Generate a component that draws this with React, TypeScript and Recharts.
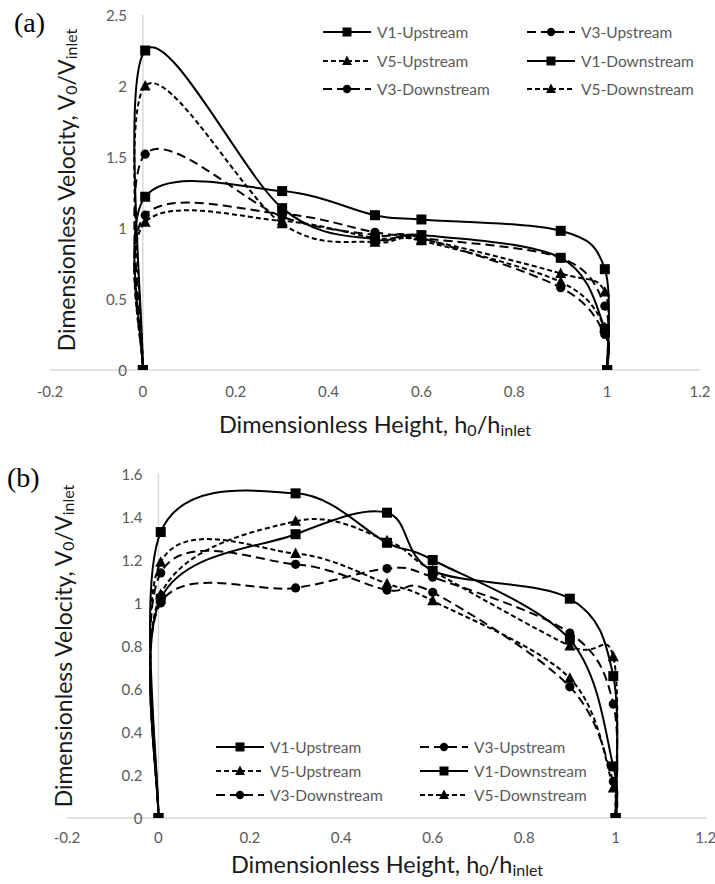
import React from "react"
import { LineChart, Line, XAxis, YAxis, ReferenceLine, Legend, Label } from "recharts"

// dimensionless height positions of the measuring points
const heights = [0, 0.005, 0.3, 0.5, 0.6, 0.9, 0.995, 1]

const seriesNames = ["V1-Upstream", "V3-Upstream", "V5-Upstream", "V1-Downstream", "V3-Downstream", "V5-Downstream"]

// chart (a) values, V0/Vinlet
const aV1Up = [0, 1.22, 1.26, 1.09, 1.06, 0.98, 0.71, 0]
const aV3Up = [0, 1.09, 1.1, 0.97, 0.93, 0.79, 0.45, 0]
const aV5Up = [0, 1.04, 1.05, 0.93, 0.91, 0.62, 0.3, 0]
const aV1Down = [0, 2.25, 1.14, 0.92, 0.95, 0.79, 0.29, 0]
const aV3Down = [0, 1.52, 1.08, 0.95, 0.93, 0.58, 0.25, 0]
const aV5Down = [0, 2.0, 1.03, 0.9, 0.92, 0.68, 0.55, 0]

// chart (b) values
const bV1Up = [0, 1.33, 1.51, 1.28, 1.2, 0.83, 0.24, 0]
const bV3Up = [0, 1.0, 1.07, 1.16, 1.12, 0.86, 0.53, 0]
const bV5Up = [0, 1.04, 1.38, 1.29, 1.15, 0.8, 0.75, 0]
const bV1Down = [0, 1.02, 1.32, 1.42, 1.15, 1.02, 0.66, 0]
const bV3Down = [0, 1.14, 1.18, 1.06, 1.05, 0.61, 0.17, 0]
const bV5Down = [0, 1.19, 1.23, 1.09, 1.01, 0.65, 0.14, 0]

const xTicks = [-0.2, 0, 0.2, 0.4, 0.6, 0.8, 1, 1.2]
const yTicksA = [0, 0.5, 1, 1.5, 2, 2.5]
const yTicksB = [0, 0.2, 0.4, 0.6, 0.8, 1, 1.2, 1.4, 1.6]

const seriesA = [aV1Up, aV3Up, aV5Up, aV1Down, aV3Down, aV5Down]
const seriesB = [bV1Up, bV3Up, bV5Up, bV1Down, bV3Down, bV5Down]

type Kind = "square" | "circle" | "triangle"

const styleFor = (name: string): { kind: Kind; dash?: string } => {
  if (name.startsWith("V1")) return { kind: "square" }
  if (name.startsWith("V3")) return { kind: "circle", dash: "9 5" }
  return { kind: "triangle", dash: "5 3" }
}

// Excel-like smoothed line (bezier through the points, 1/6 tangents)
const excelSmooth = (context: any) => {
  let pts: number[][] = []
  return {
    areaStart() {},
    areaEnd() {},
    lineStart() {
      pts = []
    },
    lineEnd() {
      const n = pts.length
      if (!n) return
      context.moveTo(pts[0][0], pts[0][1])
      for (let i = 0; i < n - 1; i++) {
        const p0 = pts[i > 0 ? i - 1 : i]
        const p1 = pts[i]
        const p2 = pts[i + 1]
        const p3 = pts[i + 2 < n ? i + 2 : i + 1]
        context.bezierCurveTo(
          p1[0] + (p2[0] - p0[0]) / 6,
          p1[1] + (p2[1] - p0[1]) / 6,
          p2[0] - (p3[0] - p1[0]) / 6,
          p2[1] - (p3[1] - p1[1]) / 6,
          p2[0],
          p2[1]
        )
      }
    },
    point(x: number, y: number) {
      pts.push([+x, +y])
    },
  }
}

const Marker = ({ kind, cx, cy, s = 1 }: { kind: Kind; cx: number; cy: number; s?: number }) => {
  if (kind === "square") return <rect x={cx - 5 * s} y={cy - 5 * s} width={10 * s} height={10 * s} fill="#000" />
  if (kind === "circle") return <circle cx={cx} cy={cy} r={4.6 * s} fill="#000" />
  return (
    <polygon
      points={`${cx},${cy - 6 * s} ${cx + 5.5 * s},${cy + 4.5 * s} ${cx - 5.5 * s},${cy + 4.5 * s}`}
      fill="#000"
    />
  )
}

const LegendBox = ({ cols, rows, h }: { cols: number[]; rows: number[]; h: number }) => (
  <svg width={715} height={h} style={{ position: "absolute", left: 0, top: 0 }}>
    {seriesNames.map((name, i) => {
      const cx = cols[i % 2]
      const cy = rows[Math.floor(i / 2)]
      const st = styleFor(name)
      return (
        <g key={name}>
          <line x1={cx - 24} x2={cx + 24} y1={cy} y2={cy} stroke="#000" strokeWidth={2} strokeDasharray={st.dash} />
          <Marker kind={st.kind} cx={cx} cy={cy} s={0.9} />
          <text x={cx + 30} y={cy} dominantBaseline="central" fontSize={15.5} fill="#595959" fontFamily="Lato">
            {name}
          </text>
        </g>
      )
    })}
  </svg>
)

const VelocityTitle = ({ x, y }: { x: number; y: number }) => (
  <text
    x={x}
    y={y}
    transform={`rotate(-90, ${x}, ${y})`}
    textAnchor="middle"
    dominantBaseline="central"
    fontSize={23}
    fill="#1a1a1a"
    fontFamily="Lato"
  >
    Dimensionless Velocity, V
    <tspan fontSize={16} dy={4}>0</tspan>
    <tspan dy={-4}>/V</tspan>
    <tspan fontSize={16} dy={4}>inlet</tspan>
  </text>
)

const HeightTitle = ({ x, y }: { x: number; y: number }) => (
  <text x={x} y={y} textAnchor="middle" fontSize={23.5} fill="#1a1a1a" fontFamily="Lato">
    Dimensionless Height, h
    <tspan fontSize={16} dy={3}>0</tspan>
    <tspan dy={-3}>/h</tspan>
    <tspan fontSize={16} dy={3}>inlet</tspan>
  </text>
)

interface PanelProps {
  values: number[][]
  height: number
  margin: { top: number; right: number; left: number; bottom: number }
  yDomain: number[]
  yTicks: number[]
  xTickMargin: number
  titleDy: number
  yTitle: { x: number; y: number }
  legendCols: number[]
  legendRows: number[]
}

const Panel = ({ values, height, margin, yDomain, yTicks, xTickMargin, titleDy, yTitle, legendCols, legendRows }: PanelProps) => {
  const width = 715
  const axisW = 1
  const plotLeft = margin.left + axisW
  const plotW = width - plotLeft - margin.right
  const zeroX = plotLeft + ((0 - xTicks[0]) / (xTicks[xTicks.length - 1] - xTicks[0])) * plotW

  const YTick = ({ y, payload }: any) => (
    <text x={zeroX - 16} y={y} textAnchor="end" dominantBaseline="central" fontSize={15} fill="#595959" fontFamily="Lato">
      {String(payload.value)}
    </text>
  )

  return (
    <LineChart width={width} height={height} margin={margin}>
      <XAxis
        type="number"
        dataKey="x"
        domain={[xTicks[0], xTicks[xTicks.length - 1]]}
        ticks={xTicks}
        tickFormatter={(v: number) => String(Math.round(v * 10) / 10)}
        tick={{ fill: "#595959", fontSize: 15, fontFamily: "Lato" }}
        tickLine={false}
        tickMargin={xTickMargin}
        axisLine={{ stroke: "#d9d9d9", strokeWidth: 1.5 }}
        height={60}
        allowDataOverflow
      >
        <Label
          content={({ viewBox }: any) => (
            <HeightTitle x={viewBox.x + viewBox.width / 2} y={viewBox.y + titleDy} />
          )}
        />
      </XAxis>
      <YAxis
        type="number"
        domain={yDomain}
        ticks={yTicks}
        width={axisW}
        axisLine={false}
        tickLine={false}
        tick={<YTick />}
        interval={0}
        allowDataOverflow
      >
        <Label content={() => <VelocityTitle x={yTitle.x} y={yTitle.y} />} />
      </YAxis>
      <ReferenceLine x={0} stroke="#d9d9d9" strokeWidth={1.5} />
      <Legend
        verticalAlign="middle"
        align="center"
        layout="horizontal"
        wrapperStyle={{ left: 0, top: 0, width: 715, height }}
        content={() => <LegendBox cols={legendCols} rows={legendRows} h={height} />}
      />
      {seriesNames.map((name, si) => {
        const st = styleFor(name)
        const rows = heights.map((x, i) => ({ x, y: values[si][i] }))
        return (
          <Line
            key={name}
            name={name}
            data={rows}
            dataKey="y"
            type={excelSmooth as any}
            stroke="#000"
            strokeWidth={2}
            strokeDasharray={st.dash}
            dot={(p: any) => <Marker key={`${name}-${p.index}`} kind={st.kind} cx={p.cx} cy={p.cy} />}
            activeDot={false}
            isAnimationActive={false}
            legendType="none"
          />
        )
      })}
    </LineChart>
  )
}

export default function App() {
  return (
    <div style={{ position: "absolute", left: 0, top: 0, width: 715, height: 884, background: "#fff", fontFamily: "Lato" }}>
      <div style={{ position: "absolute", left: 0, top: 0 }}>
        <Panel
          values={seriesA}
          height={440}
          margin={{ top: 15, right: 15, left: 49, bottom: 10 }}
          yDomain={[0, 2.5]}
          yTicks={yTicksA}
          xTickMargin={10}
          titleDy={63}
          yTitle={{ x: 66, y: 190 }}
          legendCols={[347, 551]}
          legendRows={[32, 61, 89]}
        />
      </div>
      <div style={{ position: "absolute", left: 0, top: 440 }}>
        <Panel
          values={seriesB}
          height={444}
          margin={{ top: 34, right: 8, left: 66, bottom: 6 }}
          yDomain={[0, 1.6]}
          yTicks={yTicksB}
          xTickMargin={8}
          titleDy={55}
          yTitle={{ x: 63, y: 206 }}
          legendCols={[240, 444]}
          legendRows={[307, 331, 355]}
        />
      </div>
      <div style={{ position: "absolute", left: 14, top: 7, fontFamily: "Liberation Serif", fontSize: 28, color: "#000" }}>(a)</div>
      <div style={{ position: "absolute", left: 7, top: 462, fontFamily: "Liberation Serif", fontSize: 28, color: "#000" }}>(b)</div>
    </div>
  )
}
